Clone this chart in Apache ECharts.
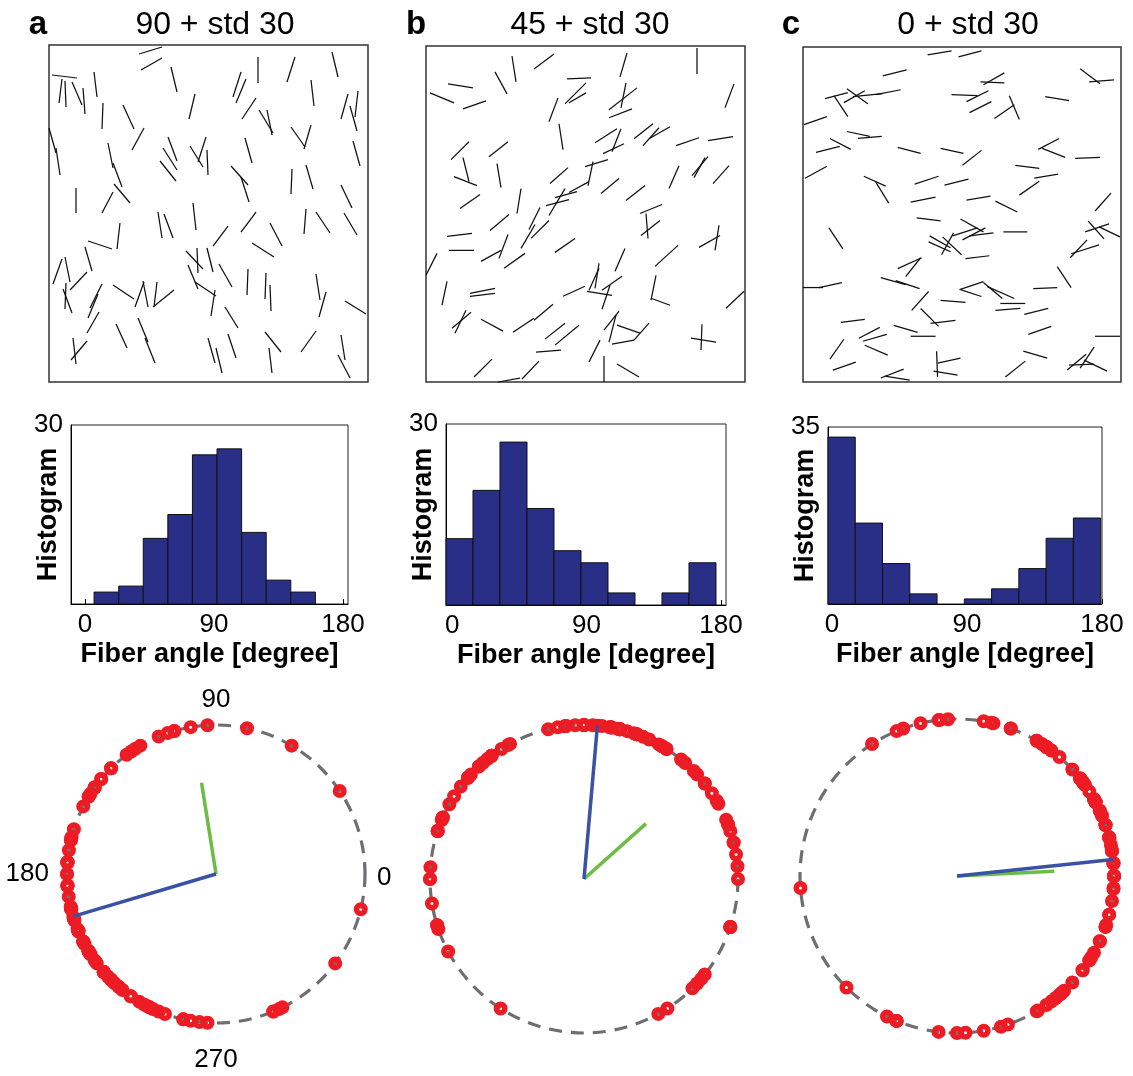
<!DOCTYPE html>
<html><head><meta charset="utf-8">
<script src="https://cdn.jsdelivr.net/npm/echarts@6/dist/echarts.min.js"></script>
<style>html,body{margin:0;padding:0;background:#fff}#c{width:1133px;height:1076px}</style>
</head><body><div id="c"></div>
<script>
// ---------------- DATA ----------------
const panelLetters = ['a', 'b', 'c'];
const panelTitles = ['90 + std 30', '45 + std 30', '0 + std 30'];

// fibre segments [x1, y1, x2, y2] in image-box units (y down)
const fibersA = [
[90,9,113,2],[92,25,113,13],[3,30,28,33],[10,58,13,34],[17,62,16,36],[23,37,33,60],[34,43,36,69],[45,27,48,52],[122,22,128,47],[184,52,192,27],[187,58,197,34],[209,12,209,38],[238,37,246,12],[283,7,289,32],[262,35,265,61],[54,58,53,84],[74,60,85,84],[140,74,146,49],[193,74,207,53],[210,65,224,88],[218,65,223,90],[292,74,299,49],[306,72,309,46],[301,61,308,86],[0,83,7,108],[7,103,11,130],[83,105,95,83],[59,98,64,123],[64,118,73,142],[119,92,128,116],[114,103,128,125],[111,116,127,136],[141,101,154,122],[149,117,157,92],[158,105,159,130],[196,93,203,118],[242,82,256,102],[255,104,262,80],[304,96,311,121],[182,121,199,140],[192,132,200,157],[242,149,243,124],[257,120,264,144],[292,140,303,163],[27,143,27,168],[53,168,64,147],[65,139,81,158],
[144,158,147,185],[109,167,113,193],[115,169,124,193],[71,178,68,204],[39,196,63,204],[36,202,43,226],[13,214,4,239],[16,212,21,237],[21,245,38,227],[14,244,23,268],[17,238,16,264],[164,201,179,181],[192,187,207,167],[221,178,233,201],[255,189,257,164],[267,167,281,188],[295,168,308,190],[203,198,225,212],[137,206,154,224],[148,203,149,228],[158,203,164,227],[170,219,183,242],[139,220,149,244],[146,237,167,251],[166,245,162,271],[176,262,189,283],[199,224,198,250],[217,228,216,254],[221,240,222,266],[267,229,271,255],[277,247,270,272],[296,256,317,269],[53,239,41,263],[49,249,39,273],[50,267,38,288],[64,240,85,254],[86,262,95,237],[94,236,99,262],[105,262,108,237],[104,262,125,245],[67,279,78,303],[89,273,99,297],[96,293,106,318],[24,293,27,319],[22,315,38,296],[159,293,166,318],[167,303,173,328],[179,289,187,313],[216,287,232,307],[220,303,223,328],[252,307,267,286],[292,290,296,315],[289,310,301,333]
];
const fibersB = [
[4,47,28,57],[22,38,47,42],[37,63,60,55],[69,26,81,48],[86,10,90,36],[108,23,128,8],[141,33,165,32],[139,58,160,37],[143,57,160,47],[123,76,132,52],[194,31,201,7],[271,2,271,28],[299,62,308,38],[183,64,211,42],[200,37,195,62],[183,72,206,63],[133,78,137,104],[169,97,191,83],[195,83,186,106],[177,108,198,98],[208,93,227,78],[217,100,233,82],[223,93,244,81],[250,100,273,92],[282,95,307,91],[25,114,43,96],[63,111,82,96],[37,112,43,136],[28,131,51,140],[71,118,75,142],[124,138,142,122],[159,121,182,114],[167,116,162,140],[143,147,163,136],[175,148,193,133],[200,155,219,140],[243,143,253,120],[266,130,282,111],[268,132,279,112],[287,138,303,120],[34,163,54,149],[139,143,123,170],[129,152,151,146],[120,160,143,154],[95,143,91,168],[214,168,236,159],
[103,184,114,162],[95,203,109,179],[105,193,123,175],[64,185,83,169],[21,191,46,188],[23,205,48,205],[0,230,11,208],[55,216,75,205],[73,213,82,189],[78,223,99,208],[129,207,149,193],[220,168,222,193],[215,190,234,175],[189,226,199,203],[229,221,252,200],[273,202,294,190],[293,180,289,205],[16,260,21,236],[44,251,69,248],[44,248,69,243],[137,251,159,241],[161,246,186,250],[169,243,173,218],[163,245,173,223],[176,245,196,231],[176,264,184,240],[225,253,244,260],[230,230,225,255],[300,263,318,246],[26,283,45,267],[29,288,40,265],[55,274,77,286],[87,287,108,273],[108,275,127,259],[119,294,139,278],[129,300,153,280],[178,285,193,266],[183,297,190,270],[191,280,214,288],[186,299,208,295],[208,295,223,278],[265,293,290,297],[276,279,275,305],[110,307,135,305],[163,317,174,295],[178,311,178,337],[191,319,213,332],[48,332,66,314],[72,337,94,333],[96,334,113,316]
];
const fibersC = [
[125,8,149,4],[156,10,179,4],[80,29,104,23],[22,52,45,46],[31,49,45,70],[44,42,65,57],[41,56,62,44],[50,50,80,47],[73,48,98,43],[1,78,24,70],[178,35,202,36],[181,38,202,26],[149,48,175,49],[164,55,186,44],[167,66,189,55],[192,72,212,58],[207,49,217,73],[243,50,267,54],[278,22,298,37],[287,35,312,33],[44,85,67,90],[55,92,79,90],[27,92,48,103],[13,106,37,100],[95,101,118,107],[138,102,161,107],[160,119,179,104],[236,103,257,92],[240,102,263,111],[273,112,298,111],[2,132,24,120],[61,130,83,140],[73,136,86,157],[112,138,136,130],[142,139,166,133],[108,156,133,151],[164,154,188,150],[213,119,237,122],[232,132,256,128],[217,149,237,135],[193,155,215,166],[293,165,309,147],
[114,172,138,175],[158,173,181,186],[160,194,183,182],[150,190,175,182],[167,190,191,187],[201,186,225,186],[26,182,40,203],[127,190,148,202],[126,196,148,206],[139,209,151,187],[140,191,159,209],[163,213,187,210],[283,186,307,178],[286,175,302,193],[297,181,318,191],[268,212,285,194],[269,208,297,199],[95,223,119,212],[103,231,118,212],[0,242,20,242],[16,242,39,237],[78,232,103,239],[93,235,117,243],[255,221,269,242],[157,244,181,236],[158,244,179,251],[181,237,200,253],[185,241,212,253],[231,243,255,242],[109,265,126,246],[138,255,163,257],[198,258,223,258],[193,265,218,263],[222,269,246,263],[118,263,136,281],[128,278,153,275],[38,277,62,274],[56,293,77,282],[60,296,84,289],[91,280,115,287],[108,291,133,291],[226,289,249,281],[293,291,318,291],[27,314,41,294],[62,300,85,310],[30,325,53,317],[134,306,135,332],[135,318,158,313],[131,326,155,330],[78,333,101,324],[82,331,107,335],[203,332,223,316],[221,306,245,313],[265,325,284,309],[278,323,292,302],[267,320,292,319],[282,315,305,326]
];

// histograms (degrees)
const histStart = [6.3, -4.1, -2.7];
const histBinWidth = [17.16, 18.08, 18.18];
const histCountsA = [2, 3, 11, 15, 25, 26, 12, 4, 2];
const histCountsB = [11, 19, 27, 16, 9, 7, 2, 0, 2, 7];
const histCountsC = [33, 16, 8, 2, 0, 1, 3, 7, 13, 17];
const histXMin = [-9.8, -4.1, -2.7];
const histXMax = [183.5, 183.4, 180];
const histYMax = [30, 30, 35];
const histTicks = [0, 90, 180];

// circular plots (doubled angle, degrees)
const circleTicks = [0, 90, 180, 270];
const blueAngles = [196.5, 85, 6];
const blueLengths = [1, 1, 1];
const greenAngles = [99, 41.8, 2.8];
const greenLengths = [0.62, 0.54, 0.62];

// ---------------- LAYOUT ----------------
const FONT = '"Liberation Sans", Arial, Helvetica, sans-serif';
const fiberGrids = [
  {left: 49, top: 45, width: 319, height: 337},
  {left: 426, top: 46, width: 319, height: 336},
  {left: 803, top: 47, width: 318, height: 335}
];
const histGrids = [
  {left: 71, top: 425, width: 277, height: 179},
  {left: 446, top: 424, width: 280, height: 181},
  {left: 828, top: 427, width: 274, height: 177}
];
const polarCenters = [[216, 874], [584, 879], [957, 876]];
const polarRadii = [149, 154, 157];
const titleCenters = [215, 590, 968];
const letterCenters = [38, 416, 791];

const fiberSets = [fibersA, fibersB, fibersC];
const histCounts = [histCountsA, histCountsB, histCountsC];

function fiberAngle(s) {
  let a = Math.atan2(-(s[3] - s[1]), s[2] - s[0]) * 180 / Math.PI;
  return ((a % 180) + 180) % 180;
}

const grid = [], xAxis = [], yAxis = [], series = [], polar = [], angleAxis = [], radiusAxis = [], graphic = [];

for (let i = 0; i < 3; i++) {
  grid.push(Object.assign({show: true, borderColor: '#333', borderWidth: 1.5, backgroundColor: '#fff'}, fiberGrids[i]));
  xAxis.push({gridIndex: grid.length - 1, type: 'value', min: 0, max: 319, show: false});
  yAxis.push({gridIndex: grid.length - 1, type: 'value', min: 0, max: 337, inverse: true, show: false});
  series.push({
    type: 'custom', xAxisIndex: xAxis.length - 1, yAxisIndex: yAxis.length - 1,
    silent: true, encode: {x: [0, 2], y: [1, 3]},
    data: fiberSets[i],
    renderItem: function (params, api) {
      const p1 = api.coord([api.value(0), api.value(1)]);
      const p2 = api.coord([api.value(2), api.value(3)]);
      return {type: 'line', shape: {x1: p1[0], y1: p1[1], x2: p2[0], y2: p2[1]},
              style: {stroke: '#111', lineWidth: 1.25}};
    }
  });
}

for (let i = 0; i < 3; i++) {
  grid.push(Object.assign({show: true, borderColor: '#222', borderWidth: 1}, histGrids[i]));
  const gi = grid.length - 1;
  xAxis.push({
    gridIndex: gi, type: 'value', min: histXMin[i], max: histXMax[i],
    axisLine: {show: true, onZero: false, lineStyle: {color: '#000', width: 1}},
    axisTick: {show: true, inside: true, length: 5, customValues: histTicks, lineStyle: {color: '#000'}},
    axisLabel: {customValues: histTicks, fontSize: 26, color: '#000', fontFamily: FONT, margin: 8},
    splitLine: {show: false},
    name: 'Fiber angle [degree]', nameLocation: 'middle', nameGap: 37, nameMoveOverlap: false,
    nameTextStyle: {fontSize: 27, fontWeight: 'bold', color: '#000', fontFamily: FONT}
  });
  yAxis.push({
    gridIndex: gi, type: 'value', min: 0, max: histYMax[i],
    axisLine: {show: true, onZero: false, lineStyle: {color: '#000', width: 1}},
    axisTick: {show: false},
    axisLabel: {customValues: [histYMax[i]], fontSize: 26, color: '#000', fontFamily: FONT, margin: 8},
    splitLine: {show: false},
    name: 'Histogram', nameLocation: 'middle', nameGap: 9, nameRotate: 90, nameMoveOverlap: false,
    nameTextStyle: {fontSize: 27, fontWeight: 'bold', color: '#000', fontFamily: FONT}
  });
  const bins = histCounts[i].map((c, k) => [histStart[i] + k * histBinWidth[i], histStart[i] + (k + 1) * histBinWidth[i], c]);
  series.push({
    type: 'custom', xAxisIndex: xAxis.length - 1, yAxisIndex: yAxis.length - 1, silent: true,
    encode: {x: [0, 1], y: 2}, data: bins,
    renderItem: function (params, api) {
      if (api.value(2) <= 0) return null;
      const p0 = api.coord([api.value(0), api.value(2)]);
      const p1 = api.coord([api.value(1), 0]);
      return {type: 'rect', shape: {x: p0[0], y: p0[1], width: p1[0] - p0[0], height: p1[1] - p0[1]},
              style: {fill: '#292e86', stroke: '#111', lineWidth: 1}};
    }
  });
}

for (let i = 0; i < 3; i++) {
  polar.push({center: polarCenters[i], radius: polarRadii[i]});
  angleAxis.push({
    polarIndex: i, type: 'value', min: 0, max: 360, startAngle: 0, clockwise: false, interval: 90,
    axisLine: {show: true, lineStyle: {color: '#6d6e71', width: 3.2, type: [13, 9]}},
    axisTick: {show: false}, splitLine: {show: false},
    axisLabel: i === 0 ? {show: true, fontSize: 26, color: '#000', fontFamily: FONT, margin: 12,
      formatter: function (v) {
        if (circleTicks.indexOf(v) < 0) return '';
        if (v === 270) return '{b|' + v + '}';
        if (v === 180) return '{l|' + v + '}';
        if (v === 90) return '{t|' + v + '}';
        return '{r|' + v + '}';
      },
      rich: {
        b: {fontSize: 26, fontFamily: FONT, color: '#000', padding: [12, 0, 0, 0]},
        l: {fontSize: 26, fontFamily: FONT, color: '#000', padding: [0, 6, 0, 0]},
        t: {fontSize: 26, fontFamily: FONT, color: '#000', padding: [0, 0, 0, 0]},
        r: {fontSize: 26, fontFamily: FONT, color: '#000', padding: [8, 0, 0, 0]}
      }} : {show: false}
  });
  radiusAxis.push({polarIndex: i, min: 0, max: 1, show: false});
  series.push({
    type: 'scatter', coordinateSystem: 'polar', polarIndex: i, silent: true,
    data: fiberSets[i].map(s => [1, 2 * fiberAngle(s)]),
    symbol: 'circle', symbolSize: 8.5,
    itemStyle: {color: 'rgba(255,255,255,0)', borderColor: '#ed1c24', borderWidth: 5.5, opacity: 1}
  });
  series.push({
    type: 'line', coordinateSystem: 'polar', polarIndex: i, silent: true, symbol: 'none',
    data: [[0, greenAngles[i]], [greenLengths[i], greenAngles[i]]],
    lineStyle: {color: '#6cbd45', width: 3.5}
  });
  series.push({
    type: 'line', coordinateSystem: 'polar', polarIndex: i, silent: true, symbol: 'none',
    data: [[0, blueAngles[i]], [blueLengths[i], blueAngles[i]]],
    lineStyle: {color: '#3a52a3', width: 3.5}
  });
  graphic.push({type: 'text', style: {text: panelLetters[i], x: letterCenters[i], y: 25, textAlign: 'center', textVerticalAlign: 'middle',
    font: 'bold 33px ' + FONT, fill: '#000'}});
  graphic.push({type: 'text', style: {text: panelTitles[i], x: titleCenters[i], y: 25, textAlign: 'center', textVerticalAlign: 'middle',
    font: '32px ' + FONT, fill: '#000'}});
}

const chart = echarts.init(document.getElementById('c'), null, {renderer: 'canvas'});
chart.setOption({
  animation: false, backgroundColor: '#fff',
  grid, xAxis, yAxis, polar, angleAxis, radiusAxis, series, graphic
});
</script></body></html>
